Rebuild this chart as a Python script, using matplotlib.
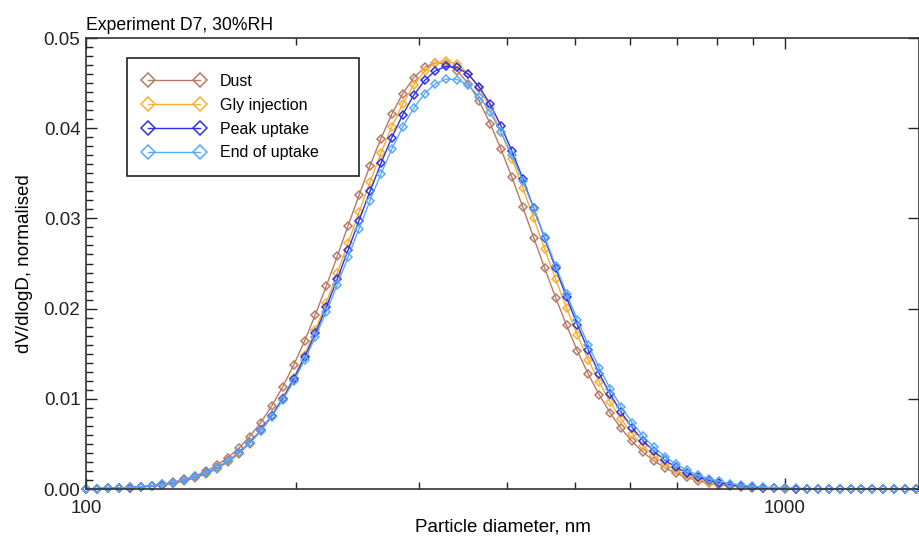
import matplotlib
matplotlib.use("Agg")
import matplotlib.pyplot as plt
import matplotlib.ticker as mticker

plt.rcParams['font.family'] = ['Liberation Sans', 'DejaVu Sans']

# diametres des canaux (nm)
diametres = [100.0, 103.7, 107.5, 111.4, 115.5, 119.7, 124.1, 128.6, 133.4, 138.2,
             143.3, 148.6, 154.0, 159.6, 165.5, 171.5, 177.8, 184.3, 191.1, 198.1,
             205.4, 212.9, 220.7, 228.8, 237.1, 245.8, 254.8, 264.2, 273.8, 283.9,
             294.3, 305.1, 316.2, 327.8, 339.8, 352.3, 365.2, 378.6, 392.4, 406.8,
             421.7, 437.1, 453.2, 469.8, 487.0, 504.8, 523.3, 542.5, 562.3, 582.9,
             604.3, 626.4, 649.4, 673.2, 697.8, 723.4, 749.9, 777.4, 805.8, 835.4,
             866.0, 897.7, 930.6, 964.7, 1000.0, 1036.6, 1074.6, 1114.0, 1154.8, 1197.1,
             1241.0, 1286.4, 1333.5, 1382.4, 1433.0, 1485.5, 1539.9]

dust = [0.00003, 0.00005, 0.00008, 0.00012, 0.00017, 0.00026, 0.00037, 0.00054, 0.00076, 0.00106,
        0.00145, 0.00197, 0.00264, 0.00348, 0.00453, 0.00582, 0.00736, 0.00918, 0.01130, 0.01370,
        0.01639, 0.01934, 0.02250, 0.02581, 0.02920, 0.03257, 0.03583, 0.03885, 0.04155, 0.04383,
        0.04558, 0.04674, 0.04727, 0.04714, 0.04635, 0.04495, 0.04298, 0.04052, 0.03767, 0.03454,
        0.03123, 0.02784, 0.02447, 0.02121, 0.01814, 0.01529, 0.01271, 0.01042, 0.00842, 0.00671,
        0.00527, 0.00409, 0.00312, 0.00235, 0.00175, 0.00128, 0.00093, 0.00066, 0.00046, 0.00032,
        0.00022, 0.00015, 0.00010, 0.00006, 0.00004, 0.00003, 0.00002, 0.00001, 0, 0,
        0, 0, 0, 0, 0, 0, 0]

gly_injection = [0.00002, 0.00004, 0.00006, 0.00009, 0.00014, 0.00020, 0.00030, 0.00043, 0.00062, 0.00087,
                 0.00121, 0.00165, 0.00223, 0.00297, 0.00389, 0.00504, 0.00643, 0.00809, 0.01004, 0.01228,
                 0.01482, 0.01762, 0.02067, 0.02391, 0.02728, 0.03069, 0.03403, 0.03723, 0.04015, 0.04270,
                 0.04478, 0.04631, 0.04723, 0.04750, 0.04710, 0.04606, 0.04441, 0.04223, 0.03959, 0.03660,
                 0.03337, 0.03000, 0.02660, 0.02325, 0.02005, 0.01704, 0.01428, 0.01181, 0.00962, 0.00773,
                 0.00613, 0.00479, 0.00369, 0.00281, 0.00210, 0.00155, 0.00113, 0.00081, 0.00058, 0.00040,
                 0.00028, 0.00019, 0.00013, 0.00008, 0.00005, 0.00003, 0.00002, 0.00001, 0.00001, 0,
                 0, 0, 0, 0, 0, 0, 0]

peak_uptake = [0.00003, 0.00005, 0.00007, 0.00011, 0.00016, 0.00024, 0.00034, 0.00049, 0.00068, 0.00095,
               0.00130, 0.00176, 0.00234, 0.00308, 0.00401, 0.00514, 0.00650, 0.00811, 0.00999, 0.01215,
               0.01459, 0.01726, 0.02018, 0.02327, 0.02649, 0.02976, 0.03299, 0.03609, 0.03896, 0.04151,
               0.04365, 0.04529, 0.04638, 0.04687, 0.04674, 0.04597, 0.04459, 0.04266, 0.04025, 0.03746,
               0.03438, 0.03112, 0.02778, 0.02446, 0.02124, 0.01818, 0.01536, 0.01279, 0.01051, 0.00852,
               0.00681, 0.00537, 0.00417, 0.00320, 0.00242, 0.00180, 0.00133, 0.00096, 0.00069, 0.00049,
               0.00034, 0.00023, 0.00016, 0.00010, 0.00007, 0.00004, 0.00003, 0.00002, 0.00001, 0.00001,
               0, 0, 0, 0, 0, 0, 0]

end_uptake = [0.00003, 0.00005, 0.00008, 0.00012, 0.00017, 0.00025, 0.00036, 0.00051, 0.00071, 0.00097,
              0.00133, 0.00178, 0.00236, 0.00310, 0.00401, 0.00511, 0.00644, 0.00801, 0.00984, 0.01193,
              0.01428, 0.01686, 0.01966, 0.02263, 0.02572, 0.02886, 0.03195, 0.03493, 0.03769, 0.04015,
              0.04223, 0.04384, 0.04493, 0.04545, 0.04539, 0.04474, 0.04351, 0.04177, 0.03956, 0.03699,
              0.03413, 0.03107, 0.02792, 0.02476, 0.02166, 0.01871, 0.01594, 0.01341, 0.01113, 0.00912,
              0.00737, 0.00588, 0.00463, 0.00360, 0.00276, 0.00209, 0.00156, 0.00115, 0.00084, 0.00060,
              0.00043, 0.00030, 0.00021, 0.00014, 0.00009, 0.00006, 0.00004, 0.00003, 0.00002, 0.00001,
              0.00001, 0, 0, 0, 0, 0, 0]

noms = ["Dust", "Gly injection", "Peak uptake", "End of uptake"]
couleurs = ["#b87a62", "#f8b030", "#3030e8", "#58aaf8"]
series = [dust, gly_injection, peak_uptake, end_uptake]

fig = plt.figure(figsize=(9.2, 5.38), dpi=100)
ax = fig.add_axes([86/920, 1 - 489/538, 833/920, 451/538])

for valeurs, nom, c in zip(series, noms, couleurs):
    ax.plot(diametres, valeurs, color=c, lw=1.0, marker='D', ms=4.4,
            mfc='none', mec=c, mew=1.1, label=nom, clip_on=False)

ax.set_xscale('log')
ax.set_xlim(100, 1555)
ax.set_ylim(0, 0.05)

ax.xaxis.set_major_locator(mticker.LogLocator(base=10))
ax.xaxis.set_minor_locator(mticker.LogLocator(base=10, subs=range(2, 10)))
ax.xaxis.set_major_formatter(mticker.FormatStrFormatter('%d'))
ax.xaxis.set_minor_formatter(mticker.NullFormatter())
ax.yaxis.set_major_locator(mticker.MultipleLocator(0.01))
ax.yaxis.set_minor_locator(mticker.MultipleLocator(0.001))
ax.yaxis.set_major_formatter(mticker.FormatStrFormatter('%.2f'))

ax.tick_params(which='both', direction='in', top=True, right=True, labelsize=13.5, colors='#222222')
ax.tick_params(which='major', length=8, width=1.0)
ax.tick_params(which='minor', length=5, width=1.0)
ax.tick_params(axis='y', which='minor', right=False)
ax.tick_params(axis='x', pad=8)
ax.tick_params(axis='y', pad=4)

for s in ax.spines.values():
    s.set_linewidth(1.2)
    s.set_color('#333333')

ax.set_xlabel("Particle diameter, nm", fontsize=13.5, labelpad=1)
ax.set_ylabel("dV/dlogD, normalised", fontsize=13.5, labelpad=8)
ax.set_title("Experiment D7, 30%RH", loc='left', fontsize=12.7, pad=6)

leg = ax.legend(loc='upper left', bbox_to_anchor=(41/833, 0.0, 232/833, 431/451), mode='expand',
                borderaxespad=0, numpoints=2, markerscale=1.6, handlelength=3.9,
                handletextpad=0.9, borderpad=1.0, labelspacing=0.55, fontsize=11.5,
                fancybox=False, framealpha=1, edgecolor='#222222')
leg.get_frame().set_linewidth(1.2)

plt.savefig("out.png", dpi=100)
plt.close()
